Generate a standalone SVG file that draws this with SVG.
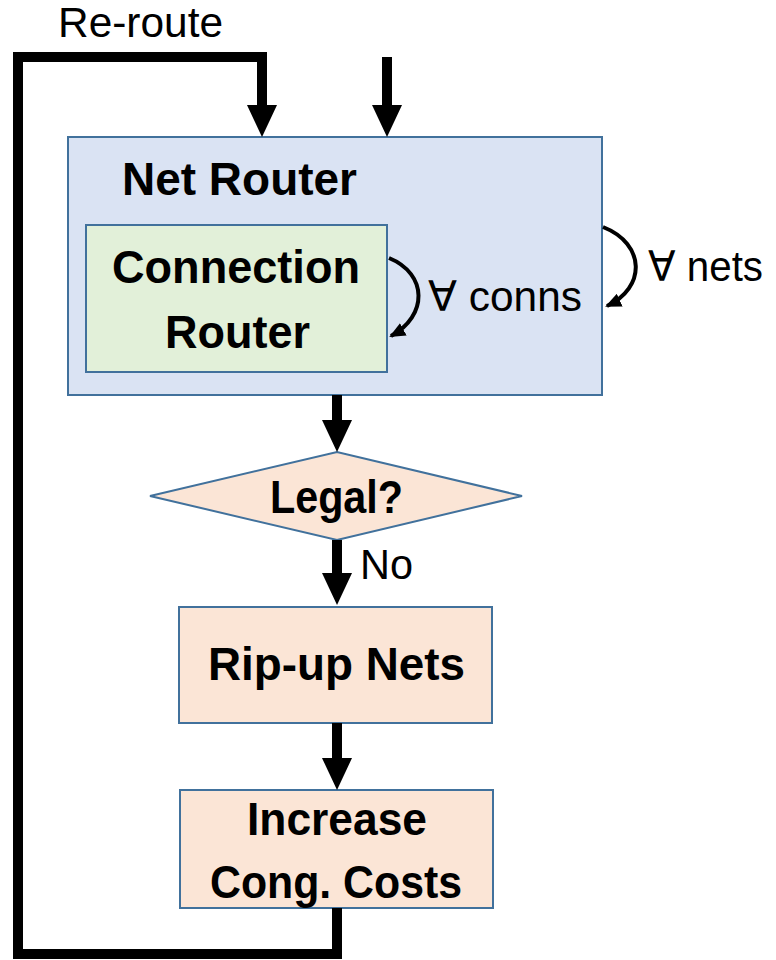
<svg xmlns="http://www.w3.org/2000/svg" width="776" height="960" viewBox="0 0 776 960">
  <style>
    .box { stroke: #41719c; stroke-width: 2; }
    .blue { fill: #dae3f3; }
    .green { fill: #e2f0d9; }
    .peach { fill: #fbe5d6; }
    .bold { font-family: "Liberation Sans", Arial, sans-serif; font-weight: bold; font-size: 46px; fill: #000; }
    .reg { font-family: "Liberation Sans", "DejaVu Sans", Arial, sans-serif; font-size: 42px; fill: #000; }
    .flow { fill: none; stroke: #000; stroke-width: 10; stroke-linejoin: miter; }
    .loop { fill: none; stroke: #000; stroke-width: 4; }
  </style>
  <defs>
    <marker id="head" viewBox="0 0 32 30" refX="0" refY="15" markerWidth="32" markerHeight="30" markerUnits="userSpaceOnUse" orient="auto">
      <path d="M0,0 L32,15 L0,30 Z" fill="#000"/>
    </marker>
    <marker id="small" viewBox="0 0 16 14" refX="14" refY="7" markerWidth="16" markerHeight="14" markerUnits="userSpaceOnUse" orient="auto">
      <path d="M0,0 L16,7 L0,14 Z" fill="#000"/>
    </marker>
  </defs>

  <g id="net-router">
    <rect class="box blue" x="68" y="137" width="534" height="258"/>
    <text class="bold" x="122" y="195" textLength="235" lengthAdjust="spacingAndGlyphs">Net Router</text>
  </g>

  <g id="connection-router">
    <rect class="box green" x="86" y="225" width="301" height="147"/>
    <text class="bold" x="112" y="283" textLength="248" lengthAdjust="spacingAndGlyphs">Connection</text>
    <text class="bold" x="165" y="348" textLength="145" lengthAdjust="spacingAndGlyphs">Router</text>
  </g>

  <g id="legal">
    <polygon class="box peach" points="150,496 337,452 522,496 337,540"/>
    <text class="bold" x="270" y="513" textLength="133" lengthAdjust="spacingAndGlyphs">Legal?</text>
  </g>

  <g id="rip-up">
    <rect class="box peach" x="179" y="607" width="313" height="116"/>
    <text class="bold" x="208" y="680" textLength="257" lengthAdjust="spacingAndGlyphs">Rip-up Nets</text>
  </g>

  <g id="increase">
    <rect class="box peach" x="180" y="790" width="313" height="118"/>
    <text class="bold" x="247" y="835" textLength="180" lengthAdjust="spacingAndGlyphs">Increase</text>
    <text class="bold" x="210" y="898" textLength="252" lengthAdjust="spacingAndGlyphs">Cong. Costs</text>
  </g>

  <g id="connectors">
    <!-- re-route loop back to the net router -->
    <path class="flow" d="M337,908 V954 H18 V57 H262 V105" marker-end="url(#head)"/>
    <!-- external input -->
    <path class="flow" d="M387,57 V105" marker-end="url(#head)"/>
    <path class="flow" d="M337,395 V420" marker-end="url(#head)"/>
    <path class="flow" d="M337,540 V573" marker-end="url(#head)"/>
    <path class="flow" d="M337,723 V758" marker-end="url(#head)"/>
    <!-- iteration arcs -->
    <path class="loop" d="M389,258 C428,274 428,316 391,336" marker-end="url(#small)"/>
    <path class="loop" d="M603,227 C646,244 646,288 607,306" marker-end="url(#small)"/>
  </g>

  <g id="labels">
    <text class="reg" x="58" y="37" textLength="165" lengthAdjust="spacingAndGlyphs">Re-route</text>
    <text class="reg" x="428" y="311" textLength="154" lengthAdjust="spacingAndGlyphs">∀ conns</text>
    <text class="reg" x="648" y="281" textLength="115" lengthAdjust="spacingAndGlyphs">∀ nets</text>
    <text class="reg" x="360" y="579" textLength="53" lengthAdjust="spacingAndGlyphs">No</text>
  </g>
</svg>
